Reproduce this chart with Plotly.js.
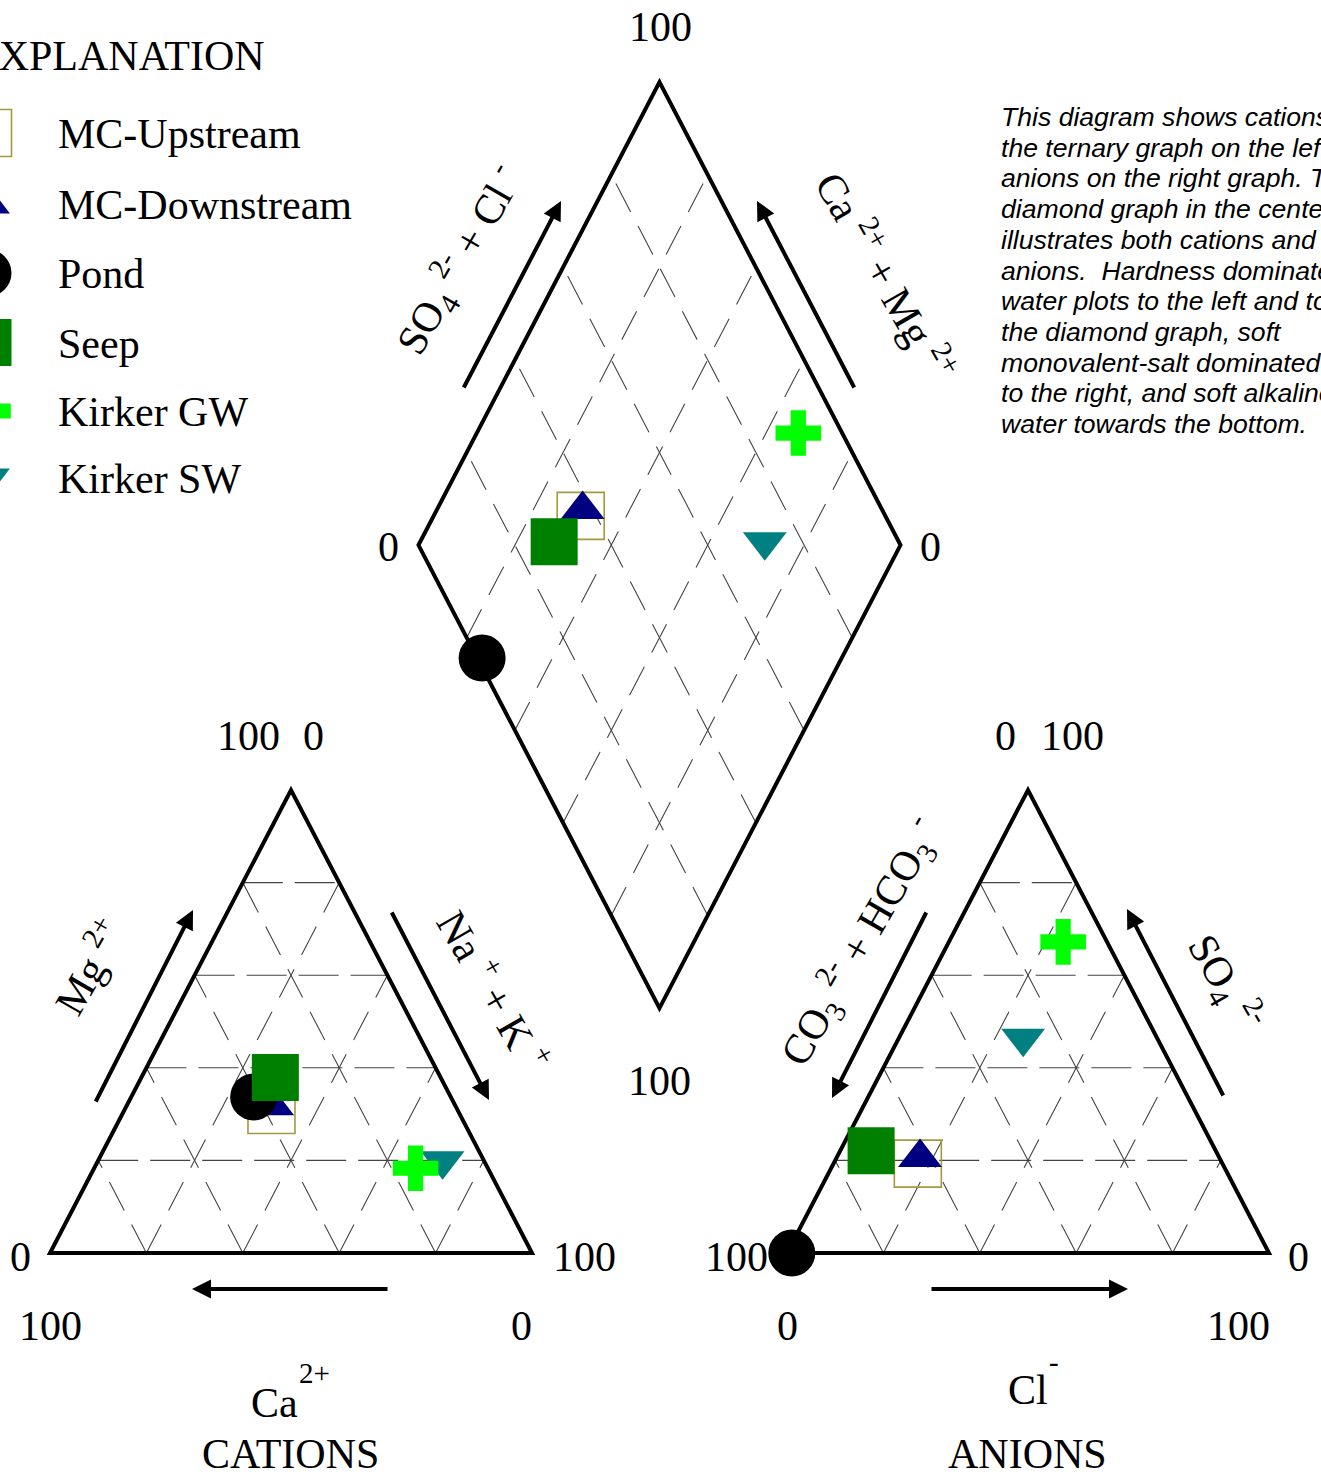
<!DOCTYPE html>
<html><head><meta charset="utf-8">
<script src="https://cdn.plot.ly/plotly-3.0.1.min.js"></script>
<style>html,body{margin:0;padding:0;background:#fff}#chart{width:1321px;height:1476px}</style>
</head><body><div id="chart"></div>
<script>
// ---- Data (percent of total milliequivalents) ----
const samples  = ["MC-Upstream","MC-Downstream","Pond","Seep","Kirker GW","Kirker SW"];
const caPct    = [38.6, 38.0, 40.9, 34.3, 15.0,  8.6];
const mgPct    = [30.9, 31.8, 33.7, 37.9, 18.3, 19.9];
const naKPct   = [30.5, 30.2, 25.4, 27.8, 66.7, 71.5];
const hco3Pct  = [63.2, 62.1, 99.0, 71.5,  9.1, 27.8];
const so4Pct   = [19.3, 20.6,  0.0, 22.1, 67.2, 46.4];
const clPct    = [17.5, 17.3,  1.0,  6.4, 23.7, 25.8];
const tickLo = "0", tickHi = "100";
const paragraph = [
  "This diagram shows cations on",
  "the ternary graph on the left and",
  "anions on the right graph. The",
  "diamond graph in the center",
  "illustrates both cations and",
  "anions.  Hardness dominated",
  "water plots to the left and top of",
  "the diamond graph, soft",
  "monovalent-salt dominated water",
  "to the right, and soft alkaline",
  "water towards the bottom."
];

// ---- Styles ----
const symbols = ["square-open","triangle-up","circle","square","cross","triangle-down"];
const colors  = ["#a39a3e","#000080","#000000","#008000","#00ff00","#008080"];
const sizes   = [47, 38, 47, 47, 38, 38];
const drawOrder = [0,1,2,3,5,4];

// ---- Geometry ----
const G = 0.529;              // gap between triangles (in triangle-side units)
const OX = 1 + G;             // x offset of anion triangle
const XB = (OX + 1) / 2, YB = G;  // bottom vertex of diamond
const X = p => (p - 50) / 482;    // page px -> data x (for layout items)
const Y = p => (1253 - p) / 463;  // page px -> data y

function cation(i){ return [(naKPct[i] + mgPct[i]/2)/100, mgPct[i]/100]; }
function anion(i){ return [OX + (clPct[i] + so4Pct[i]/2)/100, so4Pct[i]/100]; }
function diamond(i){
  const c = (caPct[i] + mgPct[i])/100, a = (so4Pct[i] + clPct[i])/100;
  return [XB + 0.5*(a - c), YB + a + c];
}

const traces = [];
drawOrder.forEach(i => {
  const p = [cation(i), anion(i), diamond(i)];
  traces.push({
    type:'scatter', mode:'markers', name: samples[i], showlegend:false, hoverinfo:'name',
    x: p.map(q=>q[0]), y: p.map(q=>q[1]),
    marker:{symbol:symbols[i], size:sizes[i], color:colors[i],
      line:{width: symbols[i]==='square-open'?1.6:0, color:colors[i]}}
  });
});
// legend glyphs (manual legend "EXPLANATION"), partly cut by the left page edge
const legY = [133, 204, 273, 342.5, 411, 478];
samples.forEach((s,i) => {
  traces.push({
    type:'scatter', mode:'markers', showlegend:false, hoverinfo:'skip',
    x: [X(-12)], y: [Y(legY[i])],
    marker:{symbol:symbols[i], size:sizes[i], color:colors[i],
      line:{width: symbols[i]==='square-open'?1.6:0, color:colors[i]}}
  });
});

// ---- Shapes ----
const shapes = [];
const outline = {color:'#000', width:4};
const gridH = {color:'#444', width:1.1, dash:'40px,12px'};
const gridD = {color:'#444', width:1.1, dash:'32px,16px'};
function line(x0,y0,x1,y1,l){ shapes.push({type:'line',xref:'x',yref:'y',x0,y0,x1,y1,line:l,layer:'below'}); }
[0, OX].forEach(o => {
  for(let k=1;k<5;k++){
    const f = k/5;
    line(o+f/2, f, o+1-f/2, f, gridH);
    line(o+f, 0, o+f+(1-f)/2, 1-f, gridD);
    line(o+f, 0, o+f/2, f, gridD);
  }
  shapes.push({type:'path',xref:'x',yref:'y',layer:'below',line:outline,
    path:`M${o},0 L${o+1},0 L${o+0.5},1 Z`});
});
for(let k=1;k<5;k++){
  const f = k/5;
  line(XB-0.5*f, YB+f, XB-0.5*f+0.5, YB+f+1, gridD);
  line(XB+0.5*f, YB+f, XB+0.5*f-0.5, YB+f+1, gridD);
}
shapes.push({type:'path',xref:'x',yref:'y',layer:'below',line:outline,
  path:`M${XB},${YB} L${XB+0.5},${YB+1} L${XB},${YB+2} L${XB-0.5},${YB+1} Z`});

// ---- Annotations ----
const serif = 'Liberation Serif, Times New Roman, serif';
const ann = [];
function txt(t, px, py, opts={}){
  ann.push(Object.assign({text:t, x:X(px), y:Y(py), xref:'x', yref:'y', showarrow:false,
    xanchor:'center', yanchor:'middle', font:{family:serif, size:42, color:'#000'}}, opts));
}
function arrow(tx,ty,hx,hy){
  ann.push({text:'', x:X(hx), y:Y(hy), ax:X(tx), ay:Y(ty), xref:'x', yref:'y', axref:'x', ayref:'y',
    showarrow:true, arrowhead:2, arrowsize:0.95, arrowwidth:4, arrowcolor:'#000', standoff:0, startstandoff:0});
}
// tick labels
txt(tickHi, 660, 27);
txt(tickLo, 388, 547); txt(tickLo, 930, 547);
txt(tickHi, 659, 1081);
txt(tickHi, 248, 736); txt(tickLo, 313, 736);
txt(tickLo, 1005, 736); txt(tickHi, 1072, 736);
txt(tickLo, 20, 1257); txt(tickHi, 584, 1257);
txt(tickHi, 736, 1257); txt(tickLo, 1298, 1257);
txt(tickHi, 50, 1326); txt(tickLo, 521, 1326);
txt(tickLo, 787, 1326); txt(tickHi, 1238, 1326);
// axis names
txt('Ca', 274, 1403); txt('2+', 314, 1373, {font:{family:serif,size:29,color:'#000'}});
txt('CATIONS', 290, 1454);
txt('Cl', 1028, 1390); txt('-', 1054, 1362, {font:{family:serif,size:29,color:'#000'}});
txt('ANIONS', 1027, 1454);
txt('SO<sub>4</sub> <sup>2-</sup> + Cl <sup>-</sup>', 459, 260, {textangle:-60});
txt('Ca <sup>2+</sup> + Mg <sup>2+</sup>', 887, 275, {textangle:60});
txt('Mg <sup>2+</sup>', 88, 966, {textangle:-60});
txt('Na <sup>+</sup> + K <sup>+</sup>', 495, 990, {textangle:60});
txt('CO<sub>3</sub> <sup>2-</sup> + HCO<sub>3</sub> <sup>-</sup>', 860, 942, {textangle:-60});
txt('SO<sub>4</sub> <sup>2-</sup>', 1225, 982, {textangle:60});
// arrows
arrow(95,1103,193,910);
arrow(391,911,489,1100);
arrow(389,1289,192,1289);
arrow(927,911,832,1098);
arrow(1224,1097,1127,909);
arrow(930,1289,1128,1289);
arrow(463,389,561,201);
arrow(855,389,757,201);
// explanation
txt('EXPLANATION', 267, 56, {xanchor:'right'});
samples.forEach((s,i)=> txt(s, 56, legY[i]+1, {xanchor:'left'}));
// paragraph
paragraph.forEach((l,i)=> txt('<i>'+l+'</i>', 999, 117 + 30.7*i,
  {xanchor:'left', font:{family:'Liberation Sans, Arial, sans-serif', size:26.6, color:'#000'}}));

const layout = {
  width:1321, height:1476, margin:{l:0,r:0,t:0,b:0,pad:0},
  paper_bgcolor:'#fff', plot_bgcolor:'#fff', showlegend:false,
  xaxis:{range:[X(0), X(1321)], visible:false, fixedrange:true},
  yaxis:{range:[Y(1476), Y(0)], visible:false, fixedrange:true},
  shapes, annotations: ann
};
Plotly.newPlot('chart', traces, layout, {staticPlot:true, displayModeBar:false});
</script></body></html>
